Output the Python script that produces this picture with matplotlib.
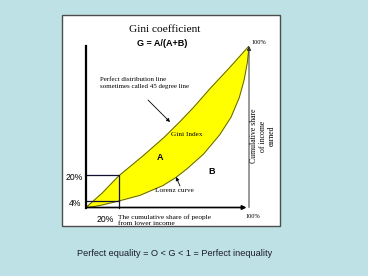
import matplotlib.pyplot as plt
from matplotlib.patches import Rectangle

# Lorenz curve (lower edge of the yellow area)
lorenz_x = [0, 0.05, 0.1, 0.2, 0.33, 0.47, 0.55, 0.62, 0.72, 0.82, 0.89, 0.94, 0.97, 0.99, 1.0]
lorenz_y = [0, 0.006, 0.016, 0.04, 0.075, 0.135, 0.185, 0.24, 0.33, 0.45, 0.56, 0.68, 0.79, 0.9, 1.0]
# upper edge ("perfect distribution line" as drawn)
equal_x = [0, 0.1, 0.2, 0.35, 0.48, 0.58, 0.66, 0.76, 0.88, 1.0]
equal_y = [0, 0.09, 0.195, 0.32, 0.435, 0.535, 0.62, 0.735, 0.865, 1.0]
box_share = 0.2      # 20% of people
low_income = 0.04    # get 4% of income

W, H = 368, 276
bg = '#bde1e5'


def fx(x):
    return x / W


def fy(y):
    return 1 - y / H


fig = plt.figure(figsize=(W / 100, H / 100), dpi=100, facecolor=bg)

# white panel (behind the axes)
fig.patches.append(Rectangle((fx(62), fy(226)), 218 / W, 211 / H, transform=fig.transFigure,
                             facecolor='white', edgecolor='#4d4d4d', linewidth=1, zorder=-5))

ax = fig.add_axes([fx(86), fy(207.5), 163 / W, 161.5 / H])
ax.set_xlim(0, 1)
ax.set_ylim(0, 1)
ax.axis('off')

# yellow area between the two curves
ax.fill(equal_x + lorenz_x[::-1], equal_y + lorenz_y[::-1], color='#ffff00', zorder=1)
ax.plot(equal_x, equal_y, color='#5c5c30', lw=0.7, zorder=2)
ax.plot(lorenz_x, lorenz_y, color='#5c5c30', lw=0.7, zorder=2)

# 20% / 4% box
ax.plot([0, box_share, box_share], [box_share, box_share, 0], color='#111133', lw=0.9, clip_on=False, zorder=3)
ax.plot([0, box_share], [low_income, low_income], color='#111133', lw=0.9, clip_on=False, zorder=3)

# axes
ax.plot([0, 0], [0, 1], color='black', lw=1.6, clip_on=False, zorder=4)
ax.annotate('', xy=(0.985, 0), xytext=(0, 0),
            arrowprops=dict(arrowstyle='-|>', color='black', lw=1.2, mutation_scale=6, shrinkA=0, shrinkB=0))
ax.annotate('', xy=(1, 1), xytext=(1, 0),
            arrowprops=dict(arrowstyle='-|>', color='#333333', lw=0.7, mutation_scale=6, shrinkA=0, shrinkB=0))

serif = 'Liberation Serif'
sans = 'Liberation Sans'

fig.text(fx(165), fy(30), 'Gini coefficient', family=serif, fontsize=8.2, ha='center', va='center')
fig.text(fx(162), fy(44), 'G = A/(A+B)', family=sans, fontsize=6.5, weight='bold', ha='center', va='center')
fig.text(fx(100), fy(83), 'Perfect distribution line\nsometimes called 45 degree line',
         family=serif, fontsize=5, ha='left', va='center', linespacing=1.3)
ax.annotate('', xy=(fx(170), fy(122)), xytext=(fx(148), fy(100)), xycoords='figure fraction',
            textcoords='figure fraction',
            arrowprops=dict(arrowstyle='-|>', color='black', lw=0.6, mutation_scale=5, shrinkA=0, shrinkB=0))
fig.text(fx(187), fy(135), 'Gini Index', family=serif, fontsize=5.2, ha='center', va='center')
fig.text(fx(160), fy(158), 'A', family=sans, fontsize=6.5, weight='bold', ha='center', va='center')
fig.text(fx(212), fy(171), 'B', family=sans, fontsize=6.5, weight='bold', ha='center', va='center')
fig.text(fx(174), fy(191), 'Lorenz curve', family=serif, fontsize=5.2, ha='center', va='center')
ax.annotate('', xy=(fx(176), fy(177)), xytext=(fx(180), fy(186)), xycoords='figure fraction',
            textcoords='figure fraction',
            arrowprops=dict(arrowstyle='-|>', color='black', lw=0.6, mutation_scale=5, shrinkA=0, shrinkB=0))
fig.text(fx(263), fy(136), 'Cumulative share\nof income\nearned', family=serif, fontsize=5.6,
         rotation=90, ha='center', va='center', multialignment='center', linespacing=1.15)
fig.text(fx(259), fy(42), '100%', family=serif, fontsize=4.6, ha='center', va='center')
fig.text(fx(253), fy(216), '100%', family=serif, fontsize=4.6, ha='center', va='center')
fig.text(fx(118), fy(220.5), 'The cumulative share of people\nfrom lower income', family=serif,
         fontsize=5.3, ha='left', va='center', linespacing=1.2)
fig.text(fx(105), fy(219), '20%', family=sans, fontsize=6.2, ha='center', va='center')
fig.text(fx(74), fy(177), '20%', family=sans, fontsize=6.2, ha='center', va='center')
fig.text(fx(75), fy(203), '4%', family=sans, fontsize=6.2, ha='center', va='center')

fig.text(fx(174.5), fy(254), 'Perfect equality = O < G < 1 = Perfect inequality', family=sans,
         fontsize=6.6, color='#1c1c2a', ha='center', va='center')

fig.savefig('out.png', dpi=100, facecolor=bg)
